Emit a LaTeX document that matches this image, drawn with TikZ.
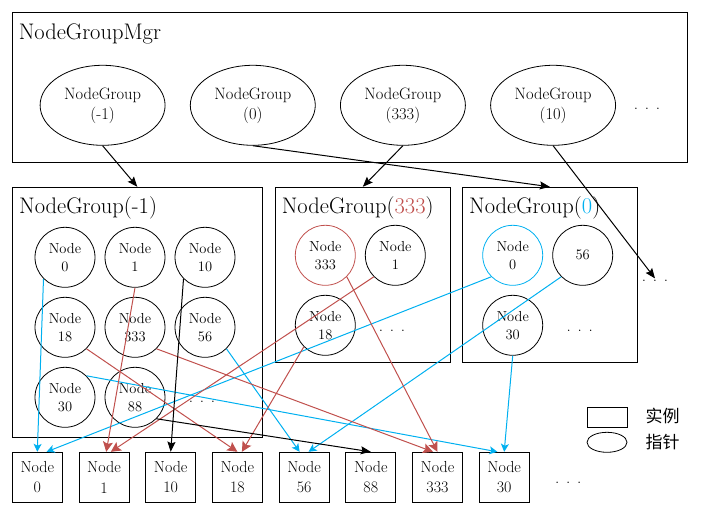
\documentclass[tikz,border=0pt]{standalone}
\usepackage{fontspec}
\newfontfamily\cjkfont{Noto Sans CJK SC}
\usetikzlibrary{arrows.meta}
\usetikzlibrary{shapes.geometric}

\definecolor{myRed}{RGB}{192,80,77}
\definecolor{myBlue}{RGB}{0,176,240}
\newcommand{\myDots}{.\hspace{0.4em}.\hspace{0.4em}.}

\begin{document}
\begin{tikzpicture}[x=1pt, y=-1pt]
\tikzstyle{grpBox} =
[
	shape			= rectangle,		% shape
	draw			= black,			% colour of the border
	line width		= 1pt,				% thickness of the border
	inner sep		= 0pt				% the box is empty
]
\tikzstyle{grpTitle} =
[
	anchor			= base west,		% placed by the baseline
	inner sep		= 0pt,				% no extra room
	font			= \fontsize{22.5}{26}\selectfont
]
\tikzstyle{grpEllipse} =
[
	shape			= ellipse,			% shape
	draw			= black,			% colour of the border
	line width		= 0.8pt,			% thickness of the border
	minimum width	= 125pt,			% | size
	minimum height	= 80pt,				% |
	inner sep		= 0pt,
	align			= center,
	font			= \fontsize{16.5}{20}\selectfont
]
\tikzstyle{ptrNode} =
[
	shape			= circle,			% shape
	draw			= black,			% colour of the border
	line width		= 0.8pt,			% thickness of the border
	minimum size	= 60pt,				% diameter
	inner sep		= 0pt,
	align			= center,
	font			= \fontsize{14.5}{18}\selectfont
]
\tikzstyle{instNode} =
[
	shape			= rectangle,		% shape
	draw			= black,			% colour of the border
	line width		= 1pt,				% thickness of the border
	minimum width	= 50pt,				% | size
	minimum height	= 50pt,				% |
	inner sep		= 0pt,
	align			= center,
	font			= \fontsize{16}{20.5}\selectfont
]
\tikzstyle{dotText} =
[
	anchor			= base,				% placed by the baseline
	inner sep		= 1pt,
	font			= \fontsize{17}{18}\selectfont
]
\tikzstyle{blackArrow} = [line width = 1pt, -{Stealth[length=10pt, width=8pt, inset=1.5pt]}]
\tikzstyle{redArrow}   = [line width = 1pt, draw = myRed, -{Stealth[length=10pt, width=10pt, inset=2pt]}]
\tikzstyle{blueArrow}  = [line width = 1pt, draw = myBlue, -{Stealth[length=8pt, width=8pt, inset=2pt]}]

\useasboundingbox (0,0) rectangle (701,516);

% NodeGroupMgr
\node (mgr) [grpBox, minimum width = 675pt, minimum height = 150pt] at (350,87.3) {};
\node (mgrTitle) [grpTitle] at (18.6,40) {NodeGroupMgr};
\node (eMinus) [grpEllipse] at (102.6,105.3) {NodeGroup\\(-1)};
\node (eZero) [grpEllipse] at (252.8,105.3) {NodeGroup\\(0)};
\node (eThree) [grpEllipse] at (402.9,105.3) {NodeGroup\\(333)};
\node (eTen) [grpEllipse] at (553.1,105.3) {NodeGroup\\(10)};
\node (mgrDots) [dotText] at (647,110) {\myDots};

% NodeGroup(-1)
\node (grpMinus) [grpBox, minimum width = 250pt, minimum height = 250pt] at (137.3,312.3) {};
\node (titleMinus) [grpTitle] at (19,213.3) {NodeGroup(-1)};
\node (m0) [ptrNode] at (65,257.3) {Node\\0};
\node (m1) [ptrNode] at (135,257.3) {Node\\1};
\node (m10) [ptrNode] at (205,257.3) {Node\\10};
\node (m18) [ptrNode] at (65,327.3) {Node\\18};
\node (m333) [ptrNode] at (135,327.3) {Node\\333};
\node (m56) [ptrNode] at (205,327.3) {Node\\56};
\node (m30) [ptrNode] at (65,397.3) {Node\\30};
\node (m88) [ptrNode] at (135,397.3) {Node\\88};
\node (mDots) [dotText] at (202,402) {\myDots};

% NodeGroup(333)
\node (grpThree) [grpBox, minimum size = 175pt] at (362.8,274.8) {};
\node (titleThree) [grpTitle] at (281.7,213.3) {NodeGroup(\textcolor{myRed}{333})};
\node (t333) [ptrNode, draw = myRed] at (325.3,255.3) {Node\\333};
\node (t1) [ptrNode] at (395.3,255.3) {Node\\1};
\node (t18) [ptrNode] at (325.3,325.3) {Node\\18};
\node (tDots) [dotText] at (392,331) {\myDots};

% NodeGroup(0)
\node (grpZero) [grpBox, minimum size = 175pt] at (549.8,274.8) {};
\node (titleZero) [grpTitle] at (469,213.3) {NodeGroup(\textcolor{myBlue}{0})};
\node (z0) [ptrNode, draw = myBlue] at (512.7,255.3) {Node\\0};
\node (z56) [ptrNode] at (582.7,255.3) {56};
\node (z30) [ptrNode] at (512.7,325.3) {Node\\30};
\node (zDots) [dotText] at (579.7,331) {\myDots};
\node (sideDots) [dotText] at (655,281) {\myDots};

% instances
\node (n0) [instNode] at (37.3,477.3) {Node\\0};
\node (n1) [instNode] at (104,477.3) {Node\\1};
\node (n10) [instNode] at (170.7,477.3) {Node\\10};
\node (n18) [instNode] at (237.4,477.3) {Node\\18};
\node (n56) [instNode] at (304.1,477.3) {Node\\56};
\node (n88) [instNode] at (370.8,477.3) {Node\\88};
\node (n333) [instNode] at (437.5,477.3) {Node\\333};
\node (n30) [instNode] at (504.2,477.3) {Node\\30};
\node (nDots) [dotText] at (568.3,483) {\myDots};

% legend
\node (legRect) [grpBox, minimum width = 40pt, minimum height = 20pt] at (607,417.3) {};
\node (legEllipse) [grpEllipse, minimum width = 40pt, minimum height = 20pt] at (607,442.3) {};
\node (legInst) [font = \cjkfont\fontsize{17}{20}\selectfont] at (662.5,416) {实例};
\node (legPtr) [font = \cjkfont\fontsize{17}{20}\selectfont] at (662.5,441.7) {指针};

% mgr -> groups
\draw [blackArrow] (eMinus.south) -- (grpMinus.north);
\draw [blackArrow] (eZero.south) -- (grpZero.north);
\draw [blackArrow] (eThree.south) -- (grpThree.north);
\draw [blackArrow] (eTen.south) -- (sideDots.north);

% pointers -> instances
\draw [blueArrow] (m0.225) -- (n0.north);
\draw [blueArrow] (z0.225) -- (n0.70);
\draw [blueArrow] (z56.225) -- (n56.80);
\draw [blueArrow] (m56.-45) -- (n56.100);
\draw [blueArrow] (m30.45) -- (n30.105);
\draw [blueArrow] (z30.south) -- (n30.north);
\draw [redArrow] (m1.south) -- (n1.85);
\draw [redArrow] (t1.225) -- (n1.75);
\draw [redArrow] (m18.-45) -- (n18.north);
\draw [redArrow] (t18.225) -- (n18.80);
\draw [redArrow] (m333.-45) -- (n333.100);
\draw [redArrow] (t333.-45) -- (n333.north);
\draw [blackArrow] (m10.225) -- (n10.north);
\draw [blackArrow] (m88.-45) -- (n88.north);
\end{tikzpicture}
\end{document}
